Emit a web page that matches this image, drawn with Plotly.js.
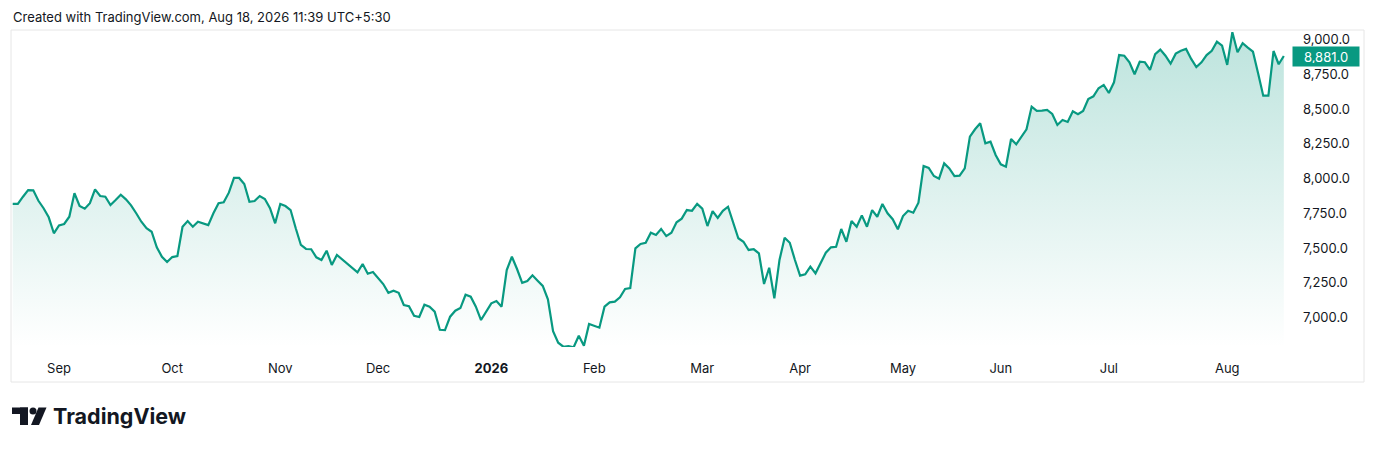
<!DOCTYPE html>
<html><head><meta charset="utf-8">
<script src="https://cdn.plot.ly/plotly-3.0.1.min.js"></script>
<style>html,body{margin:0;padding:0;background:#fff;} #chart{width:1375px;height:449px;}</style>
</head><body><div id="chart"></div>
<script>
// Daily closes, Aug 2025 - Aug 2026
const closes = [
7817,7817,7869,7917,7915,7840,7786,7721,7606,7663,
7673,7725,7894,7802,7783,7822,7922,7874,7869,7809,
7845,7883,7850,7807,7750,7689,7642,7617,7505,7437,
7399,7435,7442,7653,7694,7653,7689,7678,7665,7750,
7822,7829,7898,8004,8004,7960,7833,7838,7874,7853,
7786,7678,7817,7802,7773,7642,7522,7493,7491,7433,
7414,7481,7378,7450,7419,7389,7356,7325,7385,7315,
7327,7286,7241,7178,7193,7178,7090,7081,7013,7004,
7092,7078,7042,6912,6910,7006,7049,7068,7164,7150,
7078,6982,7042,7102,7119,7078,7342,7437,7349,7250,
7263,7304,7265,7227,7131,6901,6819,6790,6795,6786,
6869,6797,6953,6941,6927,7078,7109,7114,7145,7205,
7212,7498,7529,7538,7610,7594,7637,7586,7610,7685,
7711,7773,7768,7817,7783,7658,7766,7716,7768,7797,
7682,7570,7545,7486,7491,7462,7241,7358,7138,7414,
7574,7538,7414,7301,7311,7366,7318,7390,7466,7505,
7509,7637,7545,7694,7653,7735,7653,7773,7725,7817,
7750,7707,7635,7730,7768,7754,7826,8090,8076,8018,
7999,8109,8073,8018,8020,8073,8301,8354,8397,8253,
8265,8169,8102,8085,8284,8246,8301,8354,8517,8486,
8488,8493,8464,8385,8421,8407,8483,8462,8486,8572,
8591,8649,8673,8615,8692,8888,8883,8836,8750,8840,
8836,8781,8894,8927,8883,8826,8898,8919,8932,8860,
8802,8836,8888,8919,8984,8955,8817,9052,8908,8973,
8941,8912,8757,8596,8596,8917,8822,8881
];
// bar index of the first trading day of each month label
const monthTickIdx = [9,31,52,71,93,113,134,153,173,192,213,236];
const monthTickText = ['Sep','Oct','Nov','Dec','<b>2026</b>','Feb','Mar','Apr','May','Jun','Jul','Aug'];
const priceTicks = [7000,7250,7500,7750,8000,8250,8500,8750,9000];
const lastPrice = 8881;
const headerText = 'Created with TradingView.com, Aug 18, 2026 11:39 UTC+5:30';
const brandText = 'TradingView';

const W = 1375, H = 449, L = 11, R = 1290, T = 31, B = 347;
const px = x => (x - L) / (R - L);
const py = y => (B - y) / (B - T);
const yMin = 6788, yMax = 9061;
const green = '#089981';
const ink = '#131722';
const FONT = 'Inter, Roboto, "Noto Sans", sans-serif';

const idx = closes.map((_, i) => i);

const trace = {
  x: idx, y: closes, type: 'scatter', mode: 'lines',
  line: {color: green, width: 2.2},
  fill: 'tozeroy',
  fillgradient: {type: 'vertical', start: yMin, stop: yMax,
    colorscale: [[0, 'rgba(8,153,129,0)'], [1, 'rgba(8,153,129,0.27)']]},
  hoverinfo: 'skip'
};

function rectPath(x0, y0, x1, y1) {
  return `M${px(x0)},${py(y0)} L${px(x1)},${py(y0)} L${px(x1)},${py(y1)} L${px(x0)},${py(y1)} Z`;
}

const shapes = [
  // frame
  {type: 'rect', xref: 'paper', yref: 'paper', x0: px(11), x1: px(1364), y0: py(30), y1: py(382),
   line: {color: '#e6e6e6', width: 1}, fillcolor: 'rgba(0,0,0,0)', layer: 'below'},
  // logo: T bar + stem
  {type: 'path', xref: 'paper', yref: 'paper', path: rectPath(12, 407.5, 28, 414), fillcolor: ink, line: {width: 0}},
  {type: 'path', xref: 'paper', yref: 'paper', path: rectPath(20, 407.5, 28, 425), fillcolor: ink, line: {width: 0}},
  // dot
  {type: 'circle', xref: 'paper', yref: 'paper', x0: px(29.5), x1: px(36.5), y0: py(407.5), y1: py(414.5), fillcolor: ink, line: {width: 0}},
  // slash
  {type: 'path', xref: 'paper', yref: 'paper',
   path: `M${px(38.5)},${py(407.5)} L${px(46.5)},${py(407.5)} L${px(39)},${py(425)} L${px(31)},${py(425)} Z`,
   fillcolor: ink, line: {width: 0}}
];

const annotations = [
  {xref: 'paper', yref: 'paper', x: px(11), y: py(17), xanchor: 'left', yanchor: 'middle',
   text: headerText, showarrow: false, font: {family: FONT, size: 13, color: ink}},
  {xref: 'paper', yref: 'paper', x: px(51), y: py(416), xanchor: 'left', yanchor: 'middle',
   text: '<b>' + brandText + '</b>', showarrow: false, font: {family: FONT, size: 21.5, color: ink}},
  {xref: 'paper', yref: 'y', x: px(1292), y: lastPrice, xanchor: 'left', yanchor: 'middle',
   text: lastPrice.toLocaleString('en-US', {minimumFractionDigits: 1, maximumFractionDigits: 1}),
   showarrow: false, bgcolor: green, borderpad: 3, width: 60, height: 13, align: 'center',
   font: {family: FONT, size: 13, color: '#ffffff'}}
];

const layout = {
  width: W, height: H,
  margin: {l: L, r: W - R, t: T, b: H - B, pad: 0},
  paper_bgcolor: '#ffffff', plot_bgcolor: '#ffffff',
  showlegend: false,
  font: {family: FONT, size: 13, color: ink},
  xaxis: {range: [-0.33, 248.2], tickmode: 'array', tickvals: monthTickIdx, ticktext: monthTickText,
    showgrid: false, zeroline: false, showline: false, ticks: '', ticklabelstandoff: 12,
    tickfont: {family: FONT, size: 13, color: ink}, fixedrange: true},
  yaxis: {side: 'right', range: [yMin, yMax], tickmode: 'array', tickvals: priceTicks, tickformat: ',.1f',
    showgrid: false, zeroline: false, showline: false, ticks: '', ticklabelstandoff: 12,
    tickfont: {family: FONT, size: 13, color: ink}, fixedrange: true},
  shapes: shapes,
  annotations: annotations,
  hovermode: false
};

Plotly.newPlot('chart', [trace], layout, {displayModeBar: false, staticPlot: true});
</script>
</body></html>
